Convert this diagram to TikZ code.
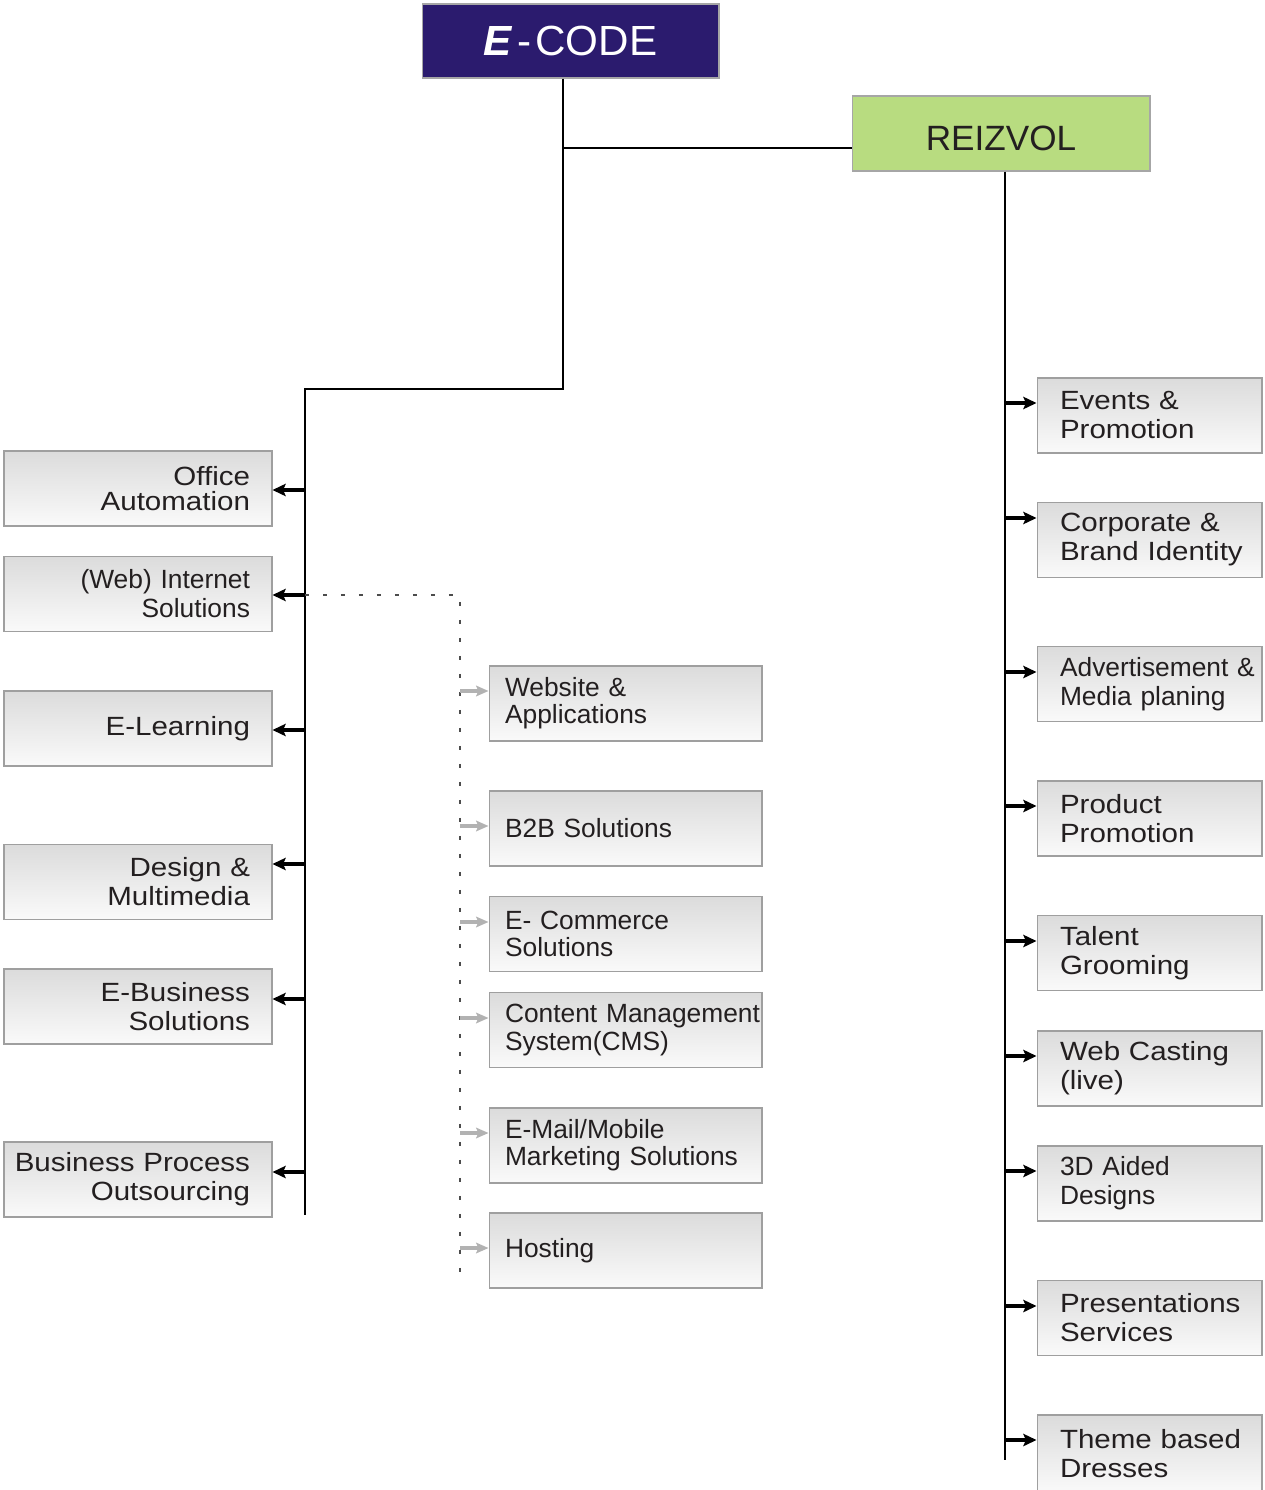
\documentclass[tikz,border=0pt]{standalone}
\usepackage{fontspec}
\setmainfont{Liberation Sans}
\newfontfamily\widefont{Liberation Sans}[FakeStretch=1.12]
\usetikzlibrary{arrows.meta,positioning}
\definecolor{ecodeblue}{RGB}{43,27,110}
\definecolor{reizgreen}{RGB}{184,220,128}
\definecolor{txt}{RGB}{35,31,32}
\tikzset{
  box/.style={rectangle, draw=gray!75, line width=0.6pt, top color=gray!28, bottom color=gray!4, minimum height=1.5cm, text=txt},
  lbox/.style={box, minimum width=5.36cm, text width=4.48cm, inner xsep=0.44cm, align=right, font=\widefont\fontsize{15}{16.5}\selectfont},
  mbox/.style={box, minimum width=5.46cm, text width=4.82cm, inner xsep=0.32cm, align=left, font=\fontsize{15}{15.5}\selectfont},
  rbox/.style={box, minimum width=4.5cm, text width=3.58cm, inner xsep=0.46cm, align=left, font=\widefont\fontsize{15}{16.5}\selectfont},
  narrow/.style={font=\fontsize{15}{16.5}\selectfont},
  headbox/.style={rectangle, draw=gray!70, line width=0.6pt, minimum height=1.5cm},
  trunk/.style={line width=1.3pt, black},
  larr/.style={line width=1.8pt, black, -{Stealth[length=7.5pt,width=7pt,inset=1.5pt]}},
  garr/.style={line width=2.2pt, gray!60, -{Stealth[length=7pt,width=6pt,inset=1.2pt]}},
  dots/.style={line width=1.4pt, gray!60!black, dash pattern=on 0.08cm off 0.28cm},
}
\begin{document}
\begin{tikzpicture}[x=0.02cm, y=-0.02cm]
  \useasboundingbox (0,0) rectangle (1264,1490);

  % --- Heads ---
  \node[headbox, fill=ecodeblue, minimum width=5.94cm, minimum height=1.48cm, text=white, font=\fontsize{24}{26}\selectfont]
    (ec) at (570.5,41) {{\bfseries\itshape E}\hspace{3pt}-\hspace{2.5pt}CODE};
  \node[headbox, fill=reizgreen, minimum width=5.96cm, text=txt, text height=0.7cm, text depth=0pt, font=\fontsize{20}{24}\selectfont]
    (rv) at (1001,133.5) {REIZVOL};

  % --- E-CODE services (left) ---
  \node[lbox] (oa)  at (138,488.5) {Office\\[-2.5pt]Automation};
  \node[lbox, narrow] (wis) at (138,594) {(Web) Internet\\Solutions};
  \node[lbox] (el)  at (138,728.5) {E-Learning};
  \node[lbox] (dm)  at (138,882) {Design \&\\Multimedia};
  \node[lbox] (eb)  at (138,1006.5) {E-Business\\Solutions};
  \node[lbox] (bpo) at (138,1179.5) {\hspace*{-0.3cm}Business Process\\Outsourcing};

  % --- Internet solutions (middle) ---
  \node[mbox] (wa)   at (625.5,703.5) {Website \&\\Applications};
  \node[mbox] (b2b)  at (625.5,828.5) {B2B Solutions};
  \node[mbox] (ecom) at (625.5,934) {E- Commerce\\Solutions};
  \node[mbox] (cms)  at (625.5,1030) {\mbox{Content Management}\\System(CMS)};
  \node[mbox] (mail) at (625.5,1145.5) {E-Mail/Mobile\\Marketing Solutions};
  \node[mbox] (host) at (625.5,1250.5) {Hosting};

  % --- REIZVOL services (right) ---
  \node[rbox] (evp) at (1149.5,415.5) {Events \&\\Promotion};
  \node[rbox] (cbi) at (1149.5,540) {Corporate \&\\\mbox{Brand Identity}};
  \node[rbox, narrow] (amp) at (1149.5,684) {\mbox{Advertisement \&}\\Media planing};
  \node[rbox] (pp)  at (1149.5,818.5) {Product\\Promotion};
  \node[rbox] (tg)  at (1149.5,953) {Talent\\Grooming};
  \node[rbox] (wc)  at (1149.5,1068.5) {Web Casting\\(live)};
  \node[rbox, narrow] (tda) at (1149.5,1183.5) {3D Aided\\Designs};
  \node[rbox] (ps)  at (1149.5,1318) {Presentations\\Services};
  \node[rbox, minimum height=1.56cm] (tbd) at (1149.5,1454) {\mbox{Theme based}\\Dresses};

  % --- Trunk lines ---
  \coordinate (split) at (563,148);
  \coordinate (lturn) at (563,389);
  \coordinate (ltop) at (305,389);
  \coordinate (lbot) at (305,1215);
  \coordinate (rbot) at (1005,1460);
  \coordinate (dtop) at (460,595);
  \coordinate (dbot) at (460,1285);

  \draw[trunk] (ec.south -| split) -- (lturn) -- (ltop) -- (lbot);
  \draw[trunk] (split) -- (rv.west |- split);
  \draw[trunk] (rv.south -| rbot) -- (rbot);
  \draw[dots] (ltop |- dtop) -- (dtop) -- (dbot);

  % Arrows
  \foreach \n/\y in {oa/490, wis/595, el/730, dm/864, eb/999, bpo/1172}
    \draw[larr] (ltop |- 0,\y) -- (\n.east |- 0,\y);
  \foreach \n/\y in {wa/691, b2b/826, ecom/922, cms/1018, mail/1133, host/1248}
    \draw[garr] (dtop |- 0,\y) -- (\n.west |- 0,\y);
  \foreach \n/\y in {evp/403, cbi/518, amp/672, pp/806, tg/941, wc/1056, tda/1171, ps/1306, tbd/1440}
    \draw[larr] (rbot |- 0,\y) -- (\n.west |- 0,\y);
\end{tikzpicture}
\end{document}
